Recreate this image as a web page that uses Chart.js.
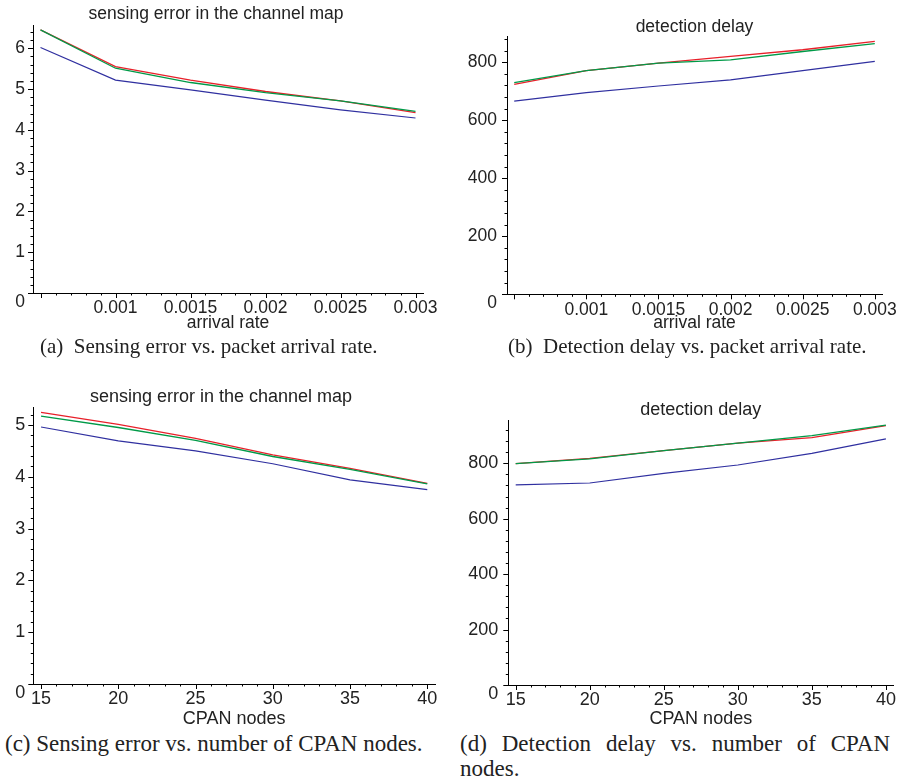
<!DOCTYPE html>
<html>
<head>
<meta charset="utf-8">
<script src="https://cdn.jsdelivr.net/npm/chart.js@4.4.1/dist/chart.umd.min.js"></script>
<style>
  body { margin: 0; background: #fff; }
  #page { position: relative; width: 897px; height: 778px; overflow: hidden; }
  canvas { position: absolute; }
  .cap { position: absolute; font-family: 'Liberation Serif', 'Times New Roman', serif; font-size: 21px; color: #222; white-space: nowrap; line-height: 27px; }
  .big { font-size: 23px; line-height: 24px; }
  #capD1 { width: 430px; text-align: justify; text-align-last: justify; }
</style>
</head>
<body>
<div id="page">
  <canvas id="chartA" width="450" height="335" style="left:0;top:0"></canvas>
  <canvas id="chartB" width="447" height="335" style="left:450px;top:0"></canvas>
  <canvas id="chartC" width="450" height="350" style="left:0;top:380px"></canvas>
  <canvas id="chartD" width="447" height="350" style="left:450px;top:380px"></canvas>
  <div class="cap" id="capA" style="left:40px;top:333px">(a)&nbsp; Sensing error vs. packet arrival rate.</div>
  <div class="cap" id="capB" style="left:508px;top:333px">(b)&nbsp; Detection delay vs. packet arrival rate.</div>
  <div class="cap big" id="capC" style="left:5px;top:732px">(c) Sensing error vs. number of CPAN nodes.</div>
  <div class="cap big" id="capD1" style="left:460px;top:732px">(d) Detection delay vs. number of CPAN</div>
  <div class="cap big" id="capD2" style="left:460px;top:757px">nodes.</div>
</div>
<script>
// x values
const rateX = [0.0005, 0.001, 0.0015, 0.002, 0.0025, 0.003];
const nodesX = [15, 20, 25, 30, 35, 40];

// (a) sensing error vs arrival rate
const errRateRed = [6.45, 5.55, 5.22, 4.94, 4.71, 4.42];
const errRateGreen = [6.45, 5.51, 5.16, 4.91, 4.71, 4.45];
const errRateBlue = [6.02, 5.22, 4.98, 4.73, 4.49, 4.29];

// (b) detection delay vs arrival rate
const delayRateRed = [724, 771, 797, 820, 843, 872];
const delayRateGreen = [730, 771, 797, 808, 837, 864];
const delayRateBlue = [666, 695, 718, 739, 771, 803];

// (c) sensing error vs CPAN nodes
const errNodesRed = [5.24, 5.01, 4.74, 4.42, 4.16, 3.87];
const errNodesGreen = [5.17, 4.95, 4.70, 4.39, 4.14, 3.86];
const errNodesBlue = [4.96, 4.69, 4.50, 4.25, 3.94, 3.75];

// (d) detection delay vs CPAN nodes
const delayNodesRed = [799, 818, 846, 873, 893, 936];
const delayNodesGreen = [799, 816, 846, 873, 900, 938];
const delayNodesBlue = [722, 729, 764, 794, 836, 888];

// tick labels
const rateTicks = [0.001, 0.0015, 0.002, 0.0025, 0.003];
const rateTickLabels = ['0.001', '0.0015', '0.002', '0.0025', '0.003'];
const nodeTicks = [15, 20, 25, 30, 35, 40];
const errRateTicks = [0, 1, 2, 3, 4, 5, 6];
const errNodeTicks = [0, 1, 2, 3, 4, 5];
const delayTicks = [0, 200, 400, 600, 800];

const RED = '#e8202a', GREEN = '#009a48', BLUE = '#3030a0';
const SANS = "'Liberation Sans', Arial, sans-serif";

function pts(xs, ys) {
  return xs.map((x, i) => ({ x: x, y: ys[i] }));
}

// Maple-style small tick marks (major + minor) drawn outside the axes
const axisTicks = {
  id: 'axisTicks',
  afterDraw(chart, args, o) {
    const ctx = chart.ctx, a = chart.chartArea;
    const xs = chart.scales.x, ys = chart.scales.y;
    ctx.save();
    ctx.strokeStyle = '#000';
    ctx.lineWidth = 1;
    ctx.beginPath();
    for (let i = Math.ceil(xs.min / o.xStep - 1e-6); i * o.xStep <= xs.max + 1e-9; i++) {
      const px = Math.round(xs.getPixelForValue(i * o.xStep)) + 0.5;
      const len = (i % o.xEvery === 0) ? 5 : 2.5;
      ctx.moveTo(px, a.bottom);
      ctx.lineTo(px, a.bottom + len);
    }
    for (let i = Math.ceil(ys.min / o.yStep - 1e-6); i * o.yStep <= ys.max + 1e-9; i++) {
      const py = Math.round(ys.getPixelForValue(i * o.yStep)) + 0.5;
      const len = (i % o.yEvery === 0) ? 5 : 2.5;
      ctx.moveTo(a.left, py);
      ctx.lineTo(a.left - len, py);
    }
    ctx.stroke();
    ctx.restore();
  }
};

function makePanel(id, p) {
  new Chart(id, {
    type: 'line',
    data: {
      datasets: [
        { data: pts(p.xData, p.blue), borderColor: BLUE, borderWidth: 1.2 },
        { data: pts(p.xData, p.green), borderColor: GREEN, borderWidth: 1.3 },
        { data: pts(p.xData, p.red), borderColor: RED, borderWidth: 1.3 }
      ]
    },
    options: {
      responsive: false,
      animation: false,
      events: [],
      elements: { point: { radius: 0 }, line: { tension: 0 } },
      layout: { padding: { left: p.padL, right: p.padR, top: 0, bottom: 0 } },
      scales: {
        x: {
          type: 'linear',
          min: p.xMin, max: p.xMax,
          grid: { display: false, drawTicks: false },
          border: { display: true, color: '#000', width: 1 },
          afterBuildTicks: s => { s.ticks = p.xTicks.map(v => ({ value: v })); },
          afterFit: s => { s.height = p.xH; s.paddingLeft = 0; s.paddingRight = 0; },
          ticks: {
            autoSkip: false, maxRotation: 0, padding: p.xTickPad, color: '#222',
            font: { family: SANS, size: p.fs },
            callback: (v, i) => p.xLabels[i]
          },
          title: {
            display: true, text: p.xTitle, color: '#222',
            font: { family: SANS, size: p.fs, lineHeight: 1.1 },
            padding: { top: 0, bottom: p.xTitlePad }
          }
        },
        y: {
          min: 0, max: p.yMax,
          grid: { display: false, drawTicks: false },
          border: { display: true, color: '#000', width: 1 },
          afterBuildTicks: s => { s.ticks = p.yTicks.map(v => ({ value: v })); },
          afterFit: s => { s.width = p.yW; s.paddingTop = 0; s.paddingBottom = 0; },
          ticks: {
            padding: p.yTickPad, color: '#222',
            font: { family: SANS, size: p.fs, lineHeight: 1 },
            // the origin label sits a little below the axis, as in the Maple plot
            callback: v => (v === 0 ? ['', '0'] : String(v))
          }
        }
      },
      plugins: {
        legend: { display: false },
        tooltip: { enabled: false },
        title: {
          display: true, text: p.title, color: '#222', fullSize: p.titleFull,
          font: { family: SANS, size: p.fs, weight: 'normal', lineHeight: 1.1 },
          padding: { top: p.tTop, bottom: p.tBot }
        },
        axisTicks: p.minor
      }
    },
    plugins: [axisTicks]
  });
}

makePanel('chartA', {
  xData: rateX, red: errRateRed, green: errRateGreen, blue: errRateBlue,
  xMin: 0.00045, xMax: 0.00305, yMax: 6.57, fs: 17.5,
  xTicks: rateTicks, xLabels: rateTickLabels, yTicks: errRateTicks,
  title: 'sensing error in the channel map', titleFull: true, xTitle: 'arrival rate',
  padL: 9, padR: 27, yW: 24, xH: 42, tTop: 4.4, tBot: 1.35,
  xTickPad: 5, xTitlePad: 1.9, yTickPad: 8,
  minor: { xStep: 0.0001, xEvery: 5, yStep: 0.2, yEvery: 5 }
});

makePanel('chartB', {
  xData: rateX, red: delayRateRed, green: delayRateGreen, blue: delayRateBlue,
  xMin: 0.00045, xMax: 0.00305, yMax: 888, fs: 17.5,
  xTicks: rateTicks, xLabels: rateTickLabels, yTicks: delayTicks,
  title: 'detection delay', titleFull: false, xTitle: 'arrival rate',
  padL: 0, padR: 15, yW: 57, xH: 40.7, tTop: 17.4, tBot: 0.05,
  xTickPad: 5, xTitlePad: 1.9, yTickPad: 10,
  minor: { xStep: 0.0001, xEvery: 5, yStep: 40, yEvery: 5 }
});

makePanel('chartC', {
  xData: nodesX, red: errNodesRed, green: errNodesGreen, blue: errNodesBlue,
  xMin: 14.5, xMax: 40.5, yMax: 5.33, fs: 18,
  xTicks: nodeTicks, xLabels: nodeTicks.map(String), yTicks: errNodeTicks,
  title: 'sensing error in the channel map', titleFull: true, xTitle: 'CPAN nodes',
  padL: 7, padR: 15, yW: 26.3, xH: 46, tTop: 7.1, tBot: 0.9,
  xTickPad: 4, xTitlePad: 1.5, yTickPad: 8,
  minor: { xStep: 1, xEvery: 5, yStep: 0.2, yEvery: 5 }
});

makePanel('chartD', {
  xData: nodesX, red: delayNodesRed, green: delayNodesGreen, blue: delayNodesBlue,
  xMin: 14.5, xMax: 40.5, yMax: 956, fs: 18,
  xTicks: nodeTicks, xLabels: nodeTicks.map(String), yTicks: delayTicks,
  title: 'detection delay', titleFull: false, xTitle: 'CPAN nodes',
  padL: 0, padR: 3.7, yW: 58.3, xH: 45, tTop: 20.1, tBot: 0.2,
  xTickPad: 4, xTitlePad: 1.5, yTickPad: 10,
  minor: { xStep: 1, xEvery: 5, yStep: 40, yEvery: 5 }
});
</script>
</body>
</html>
